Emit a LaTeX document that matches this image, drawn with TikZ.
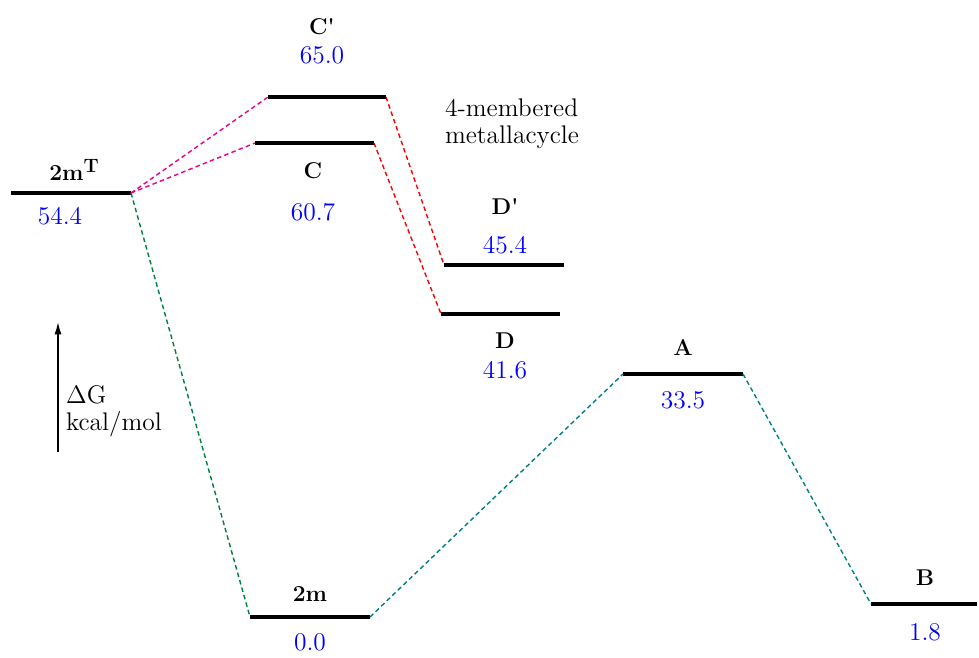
\documentclass[tikz,border=0pt]{standalone}
\usetikzlibrary{positioning,arrows.meta}
\definecolor{pathgreen}{RGB}{0,128,64}
\definecolor{pathteal}{RGB}{0,128,128}

\begin{document}
\begin{tikzpicture}[
  x=0.02cm,y=-0.02cm,
  lvl/.style={line width=2.3pt},
  nm/.style={font=\fontsize{13}{15}\selectfont\bfseries,inner sep=1pt},
  en/.style={font=\fontsize{14.5}{16}\selectfont,text=blue,inner sep=1pt},
  txt/.style={font=\fontsize{14.5}{15.5}\selectfont,align=left,anchor=west,inner sep=1pt},
  lk/.style={line width=0.8pt,dash pattern=on 2.6pt off 1.8pt},
  >={Latex[length=7pt,width=4pt]}
]
\useasboundingbox (0,0) rectangle (979,658);

% ---------------- levels ----------------
\coordinate (TmL) at (11,193);  \coordinate (TmR) at (131,193);
\coordinate (CpL) at (268,97);  \coordinate (CpR) at (386,97);
\coordinate (CL)  at (255,143); \coordinate (CR)  at (374,143);
\coordinate (DpL) at (444,265); \coordinate (DpR) at (564,265);
\coordinate (DL)  at (441,314); \coordinate (DR)  at (560,314);
\coordinate (AL)  at (623,374); \coordinate (AR)  at (743,374);
\coordinate (ML)  at (250,617); \coordinate (MR)  at (370,617);
\coordinate (BL)  at (871,604); \coordinate (BR)  at (977,604);
\foreach \l/\r in {TmL/TmR,CpL/CpR,CL/CR,DpL/DpR,DL/DR,AL/AR,ML/MR,BL/BR}
  \draw[lvl] (\l) -- (\r);

% ---------------- labels ----------------
\node[nm] (TmN) at (74,170)  {2m\raisebox{0.75ex}{\fontsize{11}{12}\selectfont T}};
\node[en] (TmE) at (60,216)  {54.4};
\node[nm] (CpN) at (322,27)  {C\textquotesingle};
\node[en] (CpE) at (322,55)  {65.0};
\node[nm] (CN)  at (313,171) {C};
\node[en] (CE)  at (313,212) {60.7};
\node[nm] (DpN) at (505,207) {D\textquotesingle};
\node[en] (DpE) at (505,245) {45.4};
\node[nm] (DN)  at (505,341) {D};
\node[en] (DE)  at (505,370) {41.6};
\node[nm] (AN)  at (683,348) {A};
\node[en] (AE)  at (683,400) {33.5};
\node[nm] (MN)  at (310,594) {2m};
\node[en] (ME)  at (310,642) {0.0};
\node[nm] (BN)  at (925,578) {B};
\node[en] (BE)  at (925,632) {1.8};

\node[txt] (ring) at (443,124) {4-membered\\metallacycle};

% ---------------- connectors ----------------
\draw[lk,magenta] (TmR) -- (CpL);
\draw[lk,magenta] (TmR) -- (CL);
\draw[lk,red] (CpR) -- (DpL);
\draw[lk,red] (CR) -- (DL);
\draw[lk,pathgreen] (TmR) -- (ML);
\draw[lk,pathteal] (MR) -- (AL);
\draw[lk,pathteal] (AR) -- (BL);

% ---------------- axis ----------------
\coordinate (ax0) at (58,452);
\coordinate (ax1) at (58,322);
\draw[->,line width=0.9pt] (ax0) -- (ax1);
\node[txt] (ax) at (64,411) {$\Delta$G\\kcal/mol};
\end{tikzpicture}
\end{document}
